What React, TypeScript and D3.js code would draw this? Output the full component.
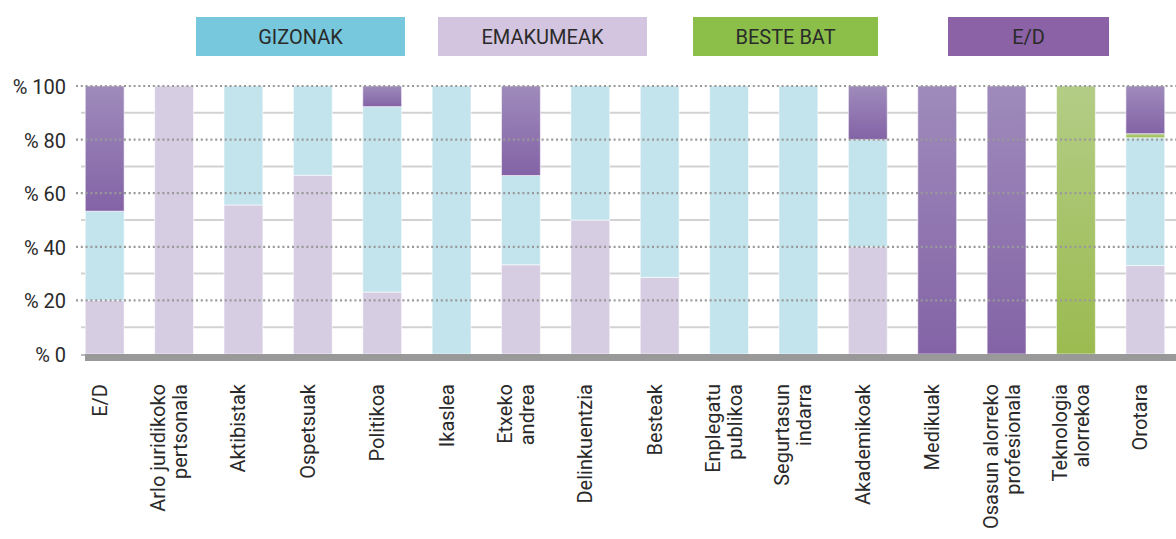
import React, { useRef, useEffect } from 'react';
import * as d3 from 'd3';

// categories (line breaks as in the original labels)
const categories = [
  'E/D',
  'Arlo juridikoko\npertsonala',
  'Aktibistak',
  'Ospetsuak',
  'Politikoa',
  'Ikaslea',
  'Etxeko\nandrea',
  'Delinkuentzia',
  'Besteak',
  'Enplegatu\npublikoa',
  'Segurtasun\nindarra',
  'Akademikoak',
  'Medikuak',
  'Osasun alorreko\nprofesionala',
  'Teknologia\nalorrekoa',
  'Orotara',
];

// percentages per category, stacked bottom to top
const emakumeak = [20, 100, 55.6, 66.7, 23.1, 0, 33.3, 50, 28.6, 0, 0, 40, 0, 0, 0, 33];
const gizonak = [33.3, 0, 44.4, 33.3, 69.2, 100, 33.3, 50, 71.4, 100, 100, 40, 0, 0, 0, 47.7];
const besteBat = [0, 0, 0, 0, 0, 0, 0, 0, 0, 0, 0, 0, 0, 0, 100, 1.5];
const ed = [46.7, 0, 0, 0, 7.7, 0, 33.4, 0, 0, 0, 0, 20, 100, 100, 0, 17.8];

const seriesKeys = ['emakumeak', 'gizonak', 'besteBat', 'ed'];
const legendLabels = ['GIZONAK', 'EMAKUMEAK', 'BESTE BAT', 'E/D'];
const legendColors = ['#77c8dc', '#d3c4df', '#8cbf4a', '#8a62a5'];
const yTicks = [0, 20, 40, 60, 80, 100];
const minorTicks = [10, 30, 50, 70, 90];

const width = 1176;
const height = 539;
const font = 'Roboto, "Open Sans", sans-serif';

const App = () => {
  const svgRef = useRef(null);

  useEffect(() => {
    const svg = d3.select(svgRef.current);
    svg.selectAll('*').remove();

    const x = d3.scaleBand().domain(categories).range([70, 1180]).paddingInner(0.44).paddingOuter(0.22);
    const y = d3.scaleLinear().domain([0, 100]).range([354, 86]);

    const rows = categories.map((c, i) => ({
      cat: c,
      emakumeak: emakumeak[i],
      gizonak: gizonak[i],
      besteBat: besteBat[i],
      ed: ed[i],
    }));
    const stacked = d3.stack().keys(seriesKeys)(rows);

    // gradients
    const defs = svg.append('defs');
    const grad = (id, top, bottom) => {
      const g = defs.append('linearGradient').attr('id', id).attr('x1', 0).attr('y1', 0).attr('x2', 0).attr('y2', 1);
      g.append('stop').attr('offset', '0%').attr('stop-color', top);
      g.append('stop').attr('offset', '100%').attr('stop-color', bottom);
    };
    grad('gradEd', '#9f8bbb', '#8363a6');
    grad('gradBeste', '#b3cd86', '#9bbb50');

    const fills = {
      emakumeak: '#d6cde3',
      gizonak: '#c3e4ed',
      besteBat: 'url(#gradBeste)',
      ed: 'url(#gradEd)',
    };

    // legend
    const legendX = [196, 438, 693, 948];
    const legendW = [209, 209, 185, 161];
    const legend = svg.append('g');
    legendLabels.forEach((l, i) => {
      legend.append('rect')
        .attr('x', legendX[i]).attr('y', 17)
        .attr('width', legendW[i]).attr('height', 39)
        .attr('fill', legendColors[i]);
      legend.append('text')
        .attr('x', legendX[i] + legendW[i] / 2).attr('y', 37)
        .attr('text-anchor', 'middle').attr('dominant-baseline', 'central')
        .style('font-family', font).style('font-size', '20px').attr('fill', '#2a2a2a')
        .text(l);
    });

    // solid minor grid lines (behind bars)
    svg.append('g').selectAll('line').data(minorTicks).enter().append('line')
      .attr('x1', 81).attr('x2', width)
      .attr('y1', d => y(d)).attr('y2', d => y(d))
      .attr('stroke', '#d2d2d2').attr('stroke-width', 2);

    // bars
    svg.append('g').selectAll('g').data(stacked).enter().append('g')
      .attr('fill', d => fills[d.key])
      .selectAll('rect')
      .data(d => d.filter(s => s[1] - s[0] > 0))
      .enter().append('rect')
      .attr('x', d => x(d.data.cat))
      .attr('width', x.bandwidth())
      .attr('y', d => y(d[1]))
      .attr('height', d => y(d[0]) - y(d[1]))
      .attr('stroke', 'rgba(255,255,255,0.55)')
      .attr('stroke-width', 1);

    // dotted major grid lines (over bars)
    svg.append('g').selectAll('line').data(yTicks.filter(t => t > 0)).enter().append('line')
      .attr('x1', 76).attr('x2', width)
      .attr('y1', d => y(d)).attr('y2', d => y(d))
      .attr('stroke', '#999').attr('stroke-width', 2.2)
      .attr('stroke-dasharray', '2 2.8');

    // baseline
    svg.append('line')
      .attr('x1', 81).attr('x2', 86).attr('y1', y(0) + 1).attr('y2', y(0) + 1)
      .attr('stroke', '#bbb').attr('stroke-width', 2);
    svg.append('rect')
      .attr('x', 85).attr('y', y(0)).attr('width', width - 85).attr('height', 7)
      .attr('fill', '#999');

    // y labels
    svg.append('g').selectAll('text').data(yTicks).enter().append('text')
      .attr('x', 66).attr('y', d => y(d) + 1)
      .attr('text-anchor', 'end').attr('dominant-baseline', 'central')
      .style('font-family', font).style('font-size', '20px').attr('fill', '#2a2a2a')
      .text(d => `% ${d}`);

    // x labels, rotated
    const xl = svg.append('g');
    categories.forEach(c => {
      const lines = c.split('\n');
      const cx = x(c) + x.bandwidth() / 2;
      lines.forEach((line, j) => {
        const off = (j - (lines.length - 1) / 2) * 22 - 5;
        xl.append('text')
          .attr('transform', `translate(${cx + off},384) rotate(-90)`)
          .attr('text-anchor', 'end').attr('dominant-baseline', 'central')
          .style('font-family', font).style('font-size', '20px').attr('fill', '#2a2a2a')
          .text(line);
      });
    });
  }, []);

  return (
    <svg ref={svgRef} width={width} height={height} style={{ position: 'absolute', left: 0, top: 0, background: '#fff' }}></svg>
  );
};

export default App;
